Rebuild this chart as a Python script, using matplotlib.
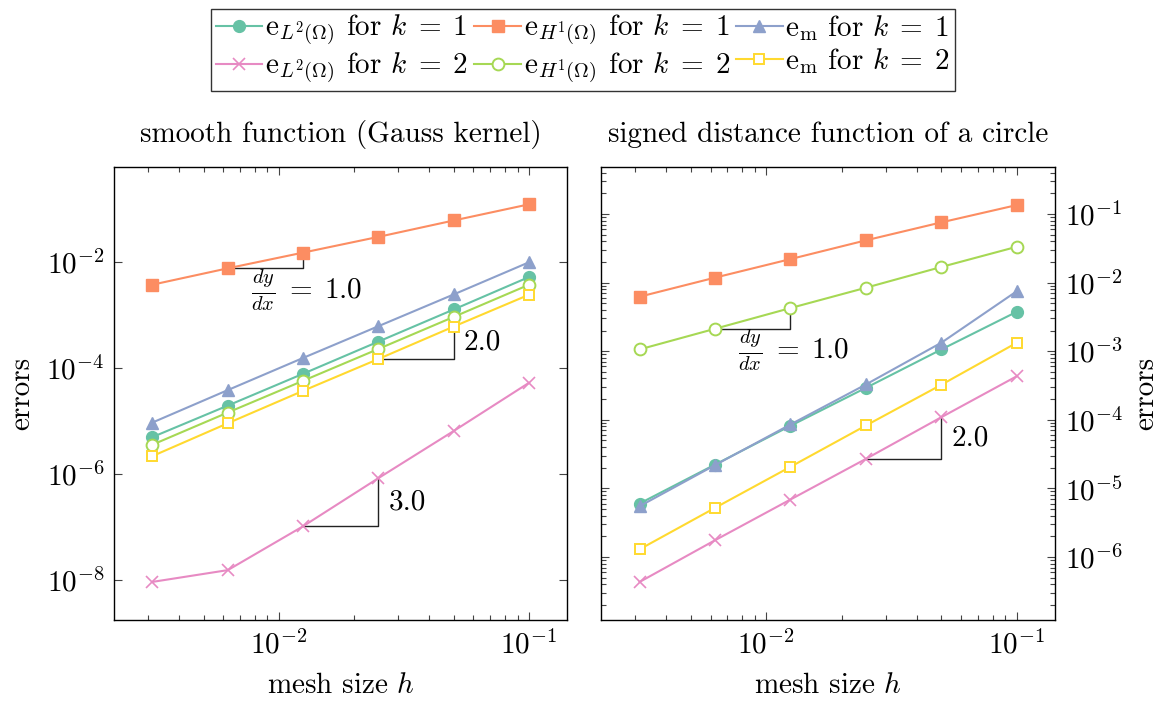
import numpy as np
import matplotlib
matplotlib.use("Agg")
import matplotlib.pyplot as plt
from matplotlib.ticker import LogLocator, NullLocator, NullFormatter

plt.rcParams['font.family'] = ['cmr10']
plt.rcParams['mathtext.fontset'] = 'cm'
plt.rcParams['axes.formatter.use_mathtext'] = True
plt.rcParams['axes.unicode_minus'] = True

# ---------------- data ----------------
h = [0.003125, 0.00625, 0.0125, 0.025, 0.05, 0.1]

# smooth function (Gauss kernel)
s_L2_k1 = [5.0e-6, 1.96e-5, 7.8e-5, 3.15e-4, 1.27e-3, 5.2e-3]
s_H1_k1 = [3.73e-3, 7.59e-3, 1.50e-2, 2.97e-2, 6.05e-2, 1.22e-1]
s_em_k1 = [9.4e-6, 3.84e-5, 1.55e-4, 6.15e-4, 2.44e-3, 9.86e-3]
s_L2_k2 = [9.3e-9, 1.55e-8, 1.04e-7, 8.4e-7, 6.5e-6, 5.27e-5]
s_H1_k2 = [3.59e-6, 1.45e-5, 5.75e-5, 2.29e-4, 9.2e-4, 3.72e-3]
s_em_k2 = [2.19e-6, 9.1e-6, 3.72e-5, 1.48e-4, 6.05e-4, 2.41e-3]

# signed distance function of a circle
d_L2_k1 = [6.0e-6, 2.22e-5, 8.16e-5, 2.92e-4, 1.06e-3, 3.76e-3]
d_H1_k1 = [6.22e-3, 1.18e-2, 2.20e-2, 4.13e-2, 7.55e-2, 1.35e-1]
d_em_k1 = [5.48e-6, 2.18e-5, 8.53e-5, 3.27e-4, 1.33e-3, 7.5e-3]
d_L2_k2 = [4.31e-7, 1.75e-6, 6.87e-6, 2.69e-5, 1.09e-4, 4.32e-4]
d_H1_k2 = [1.06e-3, 2.12e-3, 4.25e-3, 8.41e-3, 1.69e-2, 3.33e-2]
d_em_k2 = [1.29e-6, 5.19e-6, 2.06e-5, 8.24e-5, 3.24e-4, 1.33e-3]

labels = [r"$\mathrm{e}_{L^2(\Omega)}$ for $k\;=\;1$",
          r"$\mathrm{e}_{H^1(\Omega)}$ for $k\;=\;1$",
          r"$\mathrm{e}_{\mathrm{m}}$ for $k\;=\;1$",
          r"$\mathrm{e}_{L^2(\Omega)}$ for $k\;=\;2$",
          r"$\mathrm{e}_{H^1(\Omega)}$ for $k\;=\;2$",
          r"$\mathrm{e}_{\mathrm{m}}$ for $k\;=\;2$"]

titles = ["smooth function (Gauss kernel)", "signed distance function of a circle"]
slope_labels_left = [r"$\frac{dy}{dx}\;=\;1.0$", "2.0", "3.0"]
slope_labels_right = [r"$\frac{dy}{dx}\;=\;1.0$", "2.0"]

# ---------------- styles ----------------
colors = ['#66c2a5', '#fc8d62', '#8da0cb', '#e78ac3', '#a6d854', '#ffd92f']
styles = [
    dict(marker='o', mfc=colors[0], mec=colors[0], ms=8.5),
    dict(marker='s', mfc=colors[1], mec=colors[1], ms=8),
    dict(marker='^', mfc=colors[2], mec=colors[2], ms=9),
    dict(marker='x', mfc=colors[3], mec=colors[3], ms=8.5, mew=1.2),
    dict(marker='o', mfc='white', mec=colors[4], ms=8.5, mew=1.4),
    dict(marker='s', mfc='white', mec=colors[5], ms=7.5, mew=1.4),
]

FS = 21
fig = plt.figure(figsize=(11.64, 7.02), dpi=100)
axL = fig.add_axes([114/1164, 1-620/702, 453/1164, 453/702])
axR = fig.add_axes([601/1164, 1-620/702, 454/1164, 453/702])

series_L = [s_L2_k1, s_H1_k1, s_em_k1, s_L2_k2, s_H1_k2, s_em_k2]
series_R = [d_L2_k1, d_H1_k1, d_em_k1, d_L2_k2, d_H1_k2, d_em_k2]

handles = []
for ax, series in [(axL, series_L), (axR, series_R)]:
    hs = []
    for k, (ys, st) in enumerate(zip(series, styles)):
        ln, = ax.loglog(h, ys, color=colors[k], lw=1.5, zorder=3, **st)
        hs.append(ln)
    if not handles:
        handles = hs
    ax.set_xlim(10**-2.659, 10**-0.848)
    for sp in ax.spines.values():
        sp.set_linewidth(1.0)
    ax.tick_params(which='both', direction='in', top=True, right=True,
                   labelsize=FS, color='#444444', width=0.8, pad=7)
    ax.tick_params(which='major', length=6)
    ax.tick_params(which='minor', length=3.5)
    ax.xaxis.set_major_locator(LogLocator(base=10, numticks=10))
    ax.xaxis.set_minor_locator(LogLocator(base=10, subs=np.arange(2, 10), numticks=10))
    ax.xaxis.set_minor_formatter(NullFormatter())
    ax.set_xlabel(r"mesh size $h$", fontsize=FS, labelpad=10)

axL.set_ylim(10**-8.75, 10**-0.21)
axL.yaxis.set_major_locator(LogLocator(base=100, numticks=10))
axL.yaxis.set_minor_locator(NullLocator())
axL.set_title(titles[0], fontsize=FS, pad=18)
axL.set_ylabel("errors", fontsize=FS, labelpad=8)

axR.set_ylim(10**-6.92, 10**-0.315)
axR.yaxis.set_major_locator(LogLocator(base=10, numticks=12))
axR.yaxis.set_minor_locator(LogLocator(base=10, subs=np.arange(2, 10), numticks=12))
axR.yaxis.set_minor_formatter(NullFormatter())
axR.yaxis.tick_right()
axR.yaxis.set_label_position('right')
axR.tick_params(which='both', left=True, right=True, labelleft=False, labelright=True)
axR.set_title(titles[1], fontsize=FS, pad=18)
axR.set_ylabel("errors", fontsize=FS, labelpad=7)


def slope(ax, ys, i, j, text, where):
    x0, x1 = h[i], h[j]
    y0, y1 = ys[i], ys[j]
    ax.plot([x0, x1, x1], [y0, y0, y1], color='#222222', lw=1.0, zorder=2)
    if where == 'below':
        ax.annotate(text, xy=(x1, y0), xytext=(3, -22), textcoords='offset pixels',
                    ha='center', va='center', fontsize=FS)
    else:
        ax.annotate(text, xy=(x1, np.sqrt(y0 * y1)), xytext=(10, 0),
                    textcoords='offset pixels', ha='left', va='center', fontsize=FS)


slope(axL, s_H1_k1, 1, 2, slope_labels_left[0], 'below')
slope(axL, s_em_k2, 3, 4, slope_labels_left[1], 'right')
slope(axL, s_L2_k2, 2, 3, slope_labels_left[2], 'right')
slope(axR, d_H1_k2, 1, 2, slope_labels_right[0], 'below')
slope(axR, d_L2_k2, 3, 4, slope_labels_right[1], 'right')

order = [0, 3, 1, 4, 2, 5]
leg = fig.legend([handles[i] for i in order], [labels[i] for i in order],
                 loc='upper center', bbox_to_anchor=(583/1164, 0.996), ncol=3,
                 fontsize=FS, frameon=True, fancybox=False, framealpha=1,
                 edgecolor='#333333', handlelength=1.6, handletextpad=0.1,
                 columnspacing=0.2, labelspacing=0.1, borderpad=0.15,
                 borderaxespad=0.2)
leg.get_frame().set_linewidth(1.0)

fig.savefig("out.png", dpi=100)
